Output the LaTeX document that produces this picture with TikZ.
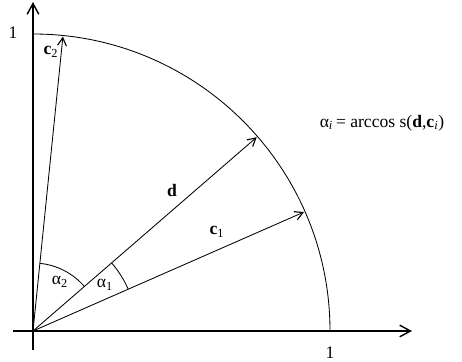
\documentclass[tikz,border=0pt]{standalone}
\usepackage{fontspec}
\setmainfont{Liberation Serif}
\usepackage{tikz}
\usetikzlibrary{arrows.meta}

\begin{document}
\begin{tikzpicture}[x=0.025cm, y=0.025cm,
    axis/.style={line width=1pt, -{Straight Barb[length=2.7mm,width=2.9mm,line width=1pt]}},
    vec/.style={line width=0.6pt, -{Straight Barb[length=2mm,width=2.2mm,line width=0.8pt]}},
    lbl/.style={font=\fontsize{12.5}{15}\selectfont, inner sep=1pt}]
    \useasboundingbox (-33,-31) rectangle (429,331);
    \coordinate (O) at (0,0);
    % axes and unit circle
    \draw[axis] (-20,0) -- (379,0) coordinate (xend);
    \draw[axis] (0,-19) -- (0,329) coordinate (yend);
    \draw[line width=0.6pt] (297,0) arc (0:90:297);
    \node[lbl] (xone) at (297,-22) {1};
    \node[lbl] (yone) at (-20,298) {1};
    % vectors
    \foreach \ang/\name in {84.2/c2, 40.9/d, 23.7/c1}
    {
        \coordinate (\name) at (\ang:296);
        \draw[vec] (O) -- (\name);
    }
    \node[lbl] (c2lbl) at (18,279) {\textbf{c}\textsubscript{2}};
    \node[lbl] (dlbl) at (139,141) {\textbf{d}};
    \node[lbl] (c1lbl) at (184,99) {\textbf{c}\textsubscript{1}};
    % angles
    \draw[line width=0.6pt] (23.7:104) arc (23.7:40.9:104);
    \draw[line width=0.6pt] (40.9:68) arc (40.9:84.2:68);
    \node[lbl] (a1) at (72,46) {α\textsubscript{1}};
    \node[lbl] (a2) at (27,49) {α\textsubscript{2}};
    \node[lbl] (eq) at (349,208) {α\textsubscript{\textit{i}}\,= arccos s(\textbf{d},\textbf{c}\textsubscript{\textit{i}})};
\end{tikzpicture}
\end{document}
